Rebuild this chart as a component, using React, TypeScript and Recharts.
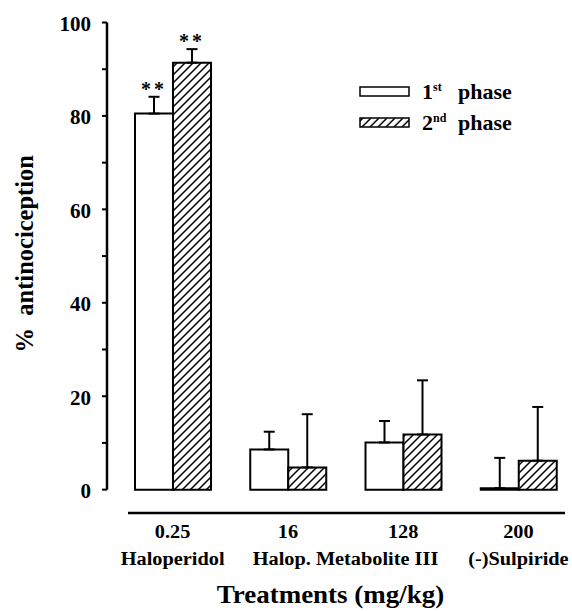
import React from 'react';
import { BarChart, Bar, XAxis, YAxis, ErrorBar, Legend, LabelList } from 'recharts';

const doses = ['0.25', '16', '128', '200'];
const treatmentNames = ['Haloperidol', 'Halop. Metabolite III', '(-)Sulpiride'];
// which treatment each dose belongs to (Metabolite III spans two doses)
const doseTreatment = [0, 1, 1, 2];
const phase1 = [80.5, 8.6, 10.1, 0.3];
const phase1Err = [3.6, 3.8, 4.6, 6.5];
const phase2 = [91.4, 4.75, 11.8, 6.2];
const phase2Err = [2.9, 11.4, 11.6, 11.5];
const phase1Sig = ['**', '', '', ''];
const phase2Sig = ['**', '', '', ''];
const yTicks = [0, 10, 20, 30, 40, 50, 60, 70, 80, 90, 100];
const yLabelTicks = [0, 20, 40, 60, 80, 100];

const data = doses.map((d, i) => ({
  dose: d,
  treatment: treatmentNames[doseTreatment[i]],
  p1: phase1[i],
  p1e: [0, phase1Err[i]],
  p2: phase2[i],
  p2e: [0, phase2Err[i]],
  s1: phase1Sig[i],
  s2: phase2Sig[i],
}));

const FONT = '"Liberation Serif", "Times New Roman", serif';

const makeSigLabel = (values: number[], errs: number[]) => (props: any) => {
  const vb = props.viewBox || props;
  const { x, y, width, height } = vb;
  const idx = props.index;
  const val = props.value;
  if (!val || idx == null) return null;
  const v = values[idx];
  const pxPerUnit = v ? height / v : 0;
  const capY = y - errs[idx] * pxPerUnit;
  return (
    <text x={x + width / 2} y={capY - 1} textAnchor="middle" fontFamily={FONT} fontWeight="bold" fontSize={20} letterSpacing={3} fill="#000">
      {val}
    </text>
  );
};

const YTick = (props: any) => {
  const { x, y, payload } = props;
  if (!yLabelTicks.includes(payload.value)) return null;
  return (
    <text x={x} y={y + 8.5} textAnchor="end" fontFamily={FONT} fontWeight="bold" fontSize={21} fill="#000">
      {payload.value}
    </text>
  );
};

const XTick = (props: any) => {
  const { x, y, payload, index } = props;
  const t = doseTreatment[index];
  // count how many consecutive doses share this treatment, draw label once centered over them
  const first = doseTreatment.indexOf(t);
  const count = doseTreatment.filter((v) => v === t).length;
  const half = payload && payload.offset ? payload.offset : 0;
  const showTreat = index === first;
  const tx = x + (count - 1) * half;
  return (
    <g>
      <g transform={`translate(${x}, ${y + 25}) scale(1.07, 1)`}>
        <text x={0} y={0} textAnchor="middle" fontFamily={FONT} fontWeight="bold" fontSize={19} fill="#000">
          {payload.value}
        </text>
      </g>
      {showTreat && (
        <g transform={`translate(${tx}, ${y + 52}) scale(1.07, 1)`}>
          <text x={0} y={0} textAnchor="middle" fontFamily={FONT} fontWeight="bold" fontSize={19} fill="#000">
            {treatmentNames[t]}
          </text>
        </g>
      )}
    </g>
  );
};

const XTitle = (props: any) => {
  const vb = props.viewBox;
  return (
    <g transform={`translate(${vb.x + vb.width / 2 - 11}, ${vb.y + 90}) scale(1.08, 1)`}>
      <text x={0} y={0} textAnchor="middle" fontFamily={FONT} fontWeight="bold" fontSize={25} fill="#000">
        Treatments (mg/kg)
      </text>
    </g>
  );
};

const YTitle = (props: any) => {
  const vb = props.viewBox;
  const cx = vb.x + 33;
  const cy = vb.y + vb.height / 2 - 14;
  return (
    <text x={cx} y={cy} transform={`rotate(-90, ${cx}, ${cy})`} textAnchor="middle" fontFamily={FONT} fontWeight="bold" fontSize={24.5} fill="#000" style={{ whiteSpace: 'pre' }}>
      {'%  antinociception'}
    </text>
  );
};

const LegendContent = () => (
  <svg width={220} height={70} style={{ display: 'block' }}>
    <rect x={10} y={12} width={49} height={9} fill="#fff" stroke="#000" strokeWidth={1.5} />
    <rect x={10} y={43} width={49} height={9} fill="url(#hatch)" stroke="#000" strokeWidth={1.5} />
    <text x={72} y={24} fontFamily={FONT} fontWeight="bold" fontSize={22} fill="#000">
      1<tspan fontSize={12} dy={-8}>st</tspan>
      <tspan x={108} dy={8}>phase</tspan>
    </text>
    <text x={72} y={55} fontFamily={FONT} fontWeight="bold" fontSize={22} fill="#000">
      2<tspan fontSize={12} dy={-8}>nd</tspan>
      <tspan x={108} dy={8}>phase</tspan>
    </text>
  </svg>
);

export default function App() {
  return (
    <div style={{ position: 'absolute', left: 0, top: 0, width: 572, height: 611, background: '#fff' }}>
      <svg width={0} height={0} style={{ position: 'absolute' }}>
        <defs>
          <pattern id="hatch" patternUnits="userSpaceOnUse" width={8} height={8}>
            <rect width={8} height={8} fill="#fff" />
            <path d="M-2,2 L2,-2 M0,8 L8,0 M6,10 L10,6" stroke="#000" strokeWidth={1.5} />
          </pattern>
        </defs>
      </svg>
      <BarChart
        width={572}
        height={611}
        data={data}
        margin={{ top: 22.5, right: -4, left: 0, bottom: 0 }}
        barGap={0}
        barSize={38}
      >
        <XAxis
          dataKey="dose"
          height={98}
          padding={{ left: 8, right: 0 }}
          tickLine={false}
          tickSize={0}
          tickMargin={0}
          tick={<XTick />}
          interval={0}
          axisLine={{ stroke: '#000', strokeWidth: 2.5, strokeDasharray: '0 21 437 2000' }}
          label={<XTitle />}
        />
        <YAxis
          width={107}
          domain={[-5, 100]}
          allowDataOverflow
          ticks={yTicks}
          interval={0}
          tickSize={5}
          tickMargin={11}
          tick={<YTick />}
          tickLine={{ stroke: '#000', strokeWidth: 2 }}
          axisLine={{ stroke: '#000', strokeWidth: 2.5, strokeDasharray: '467.2 2000' }}
          label={<YTitle />}
        />
        <Legend
          layout="vertical"
          align="center"
          verticalAlign="middle"
          content={<LegendContent />}
          wrapperStyle={{ position: 'absolute', left: 350, top: 75, width: 220, height: 70 }}
        />
        <Bar dataKey="p1" fill="#fff" stroke="#000" strokeWidth={2} isAnimationActive={false}>
          <ErrorBar dataKey="p1e" width={5.5} strokeWidth={2} stroke="#000" direction="y" />
          <LabelList dataKey="s1" content={makeSigLabel(phase1, phase1Err)} />
        </Bar>
        <Bar dataKey="p2" fill="url(#hatch)" stroke="#000" strokeWidth={2} isAnimationActive={false}>
          <ErrorBar dataKey="p2e" width={5.5} strokeWidth={2} stroke="#000" direction="y" />
          <LabelList dataKey="s2" content={makeSigLabel(phase2, phase2Err)} />
        </Bar>
      </BarChart>
    </div>
  );
}
